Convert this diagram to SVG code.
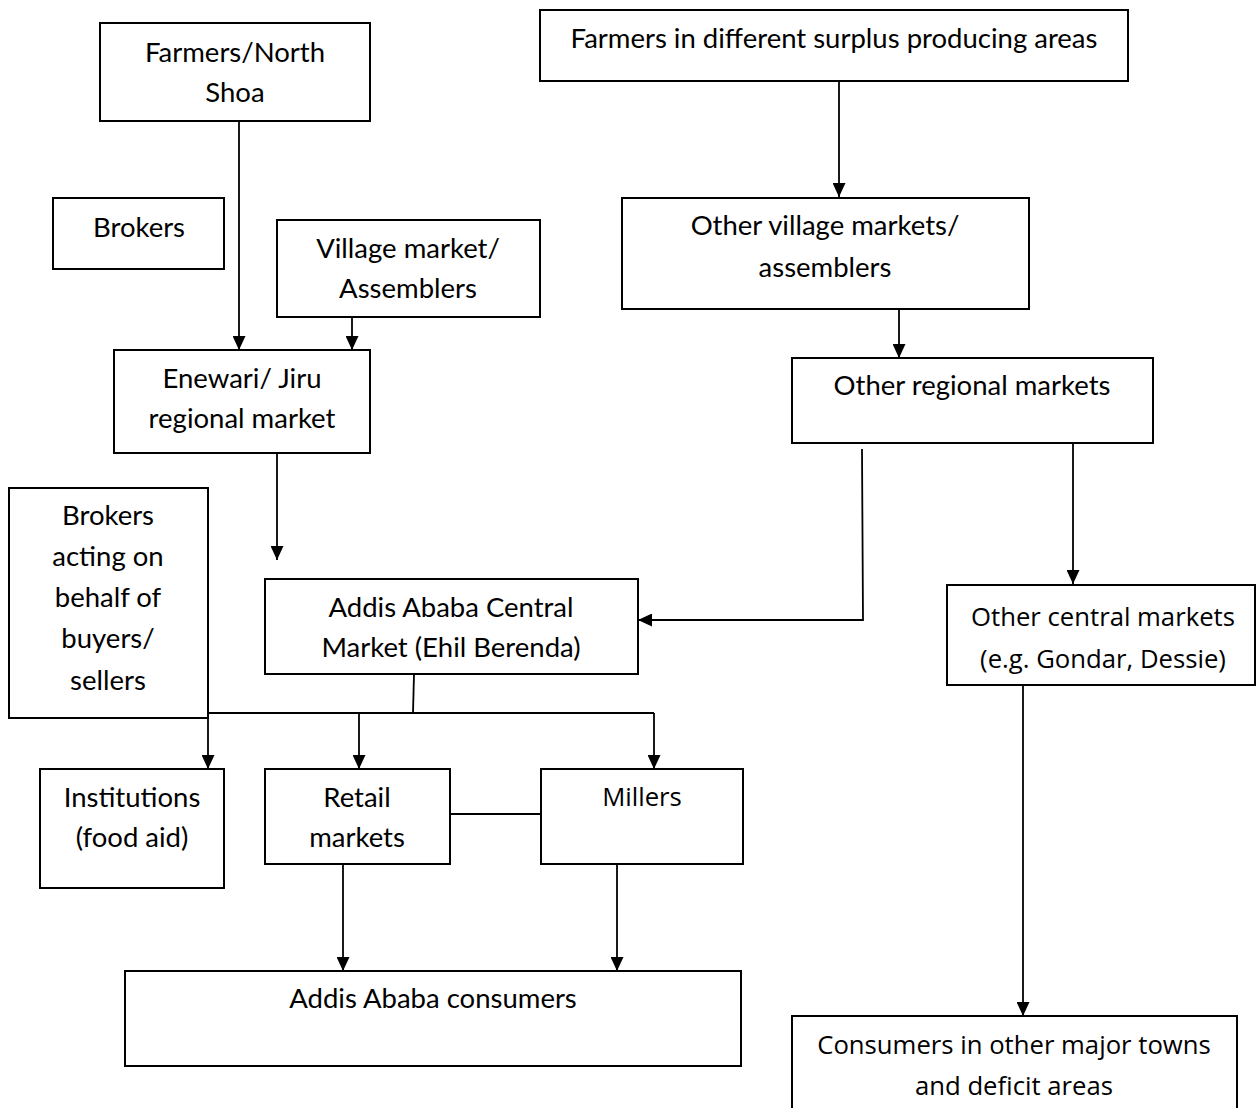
<svg xmlns="http://www.w3.org/2000/svg" width="1256" height="1108" viewBox="0 0 1256 1108">
<defs>
<marker id="arr" viewBox="0 0 14 13" refX="14" refY="6.5" markerWidth="14" markerHeight="13" markerUnits="userSpaceOnUse" orient="auto">
<path d="M0,0 L14,6.5 L0,13 z" fill="#000"/>
</marker>
<style>
rect.box{fill:#fff;stroke:#000;stroke-width:2}
text{font-family:Lato,"Liberation Sans",sans-serif;font-size:27.5px;fill:#000;text-anchor:middle}
text.os{font-family:"Open Sans","Liberation Sans",sans-serif;font-size:25.7px}
.c line,.c polyline{stroke:#000;stroke-width:1.8;fill:none}
.c .a{marker-end:url(#arr)}
</style>
</defs>
<rect width="1256" height="1108" fill="#fff"/>
<g class="c" id="connectors">
<line class="a" x1="239" y1="121" x2="239" y2="350"/>
<line class="a" x1="352" y1="317" x2="352" y2="350"/>
<line class="a" x1="277" y1="453" x2="277" y2="560"/>
<line class="a" x1="839" y1="81" x2="839" y2="197"/>
<line class="a" x1="899" y1="309" x2="899" y2="358"/>
<polyline class="a" points="862,449 863,620 638,620"/>
<line class="a" x1="1073" y1="443" x2="1073" y2="584"/>
<line class="a" x1="1023" y1="685" x2="1023" y2="1016"/>
<line x1="414" y1="674" x2="413" y2="713"/>
<line x1="208" y1="713" x2="654" y2="713"/>
<line class="a" x1="208" y1="713" x2="208" y2="769"/>
<line class="a" x1="359" y1="713" x2="359" y2="769"/>
<line class="a" x1="654" y1="713" x2="654" y2="769"/>
<line x1="450" y1="814" x2="541" y2="814"/>
<line class="a" x1="343" y1="864" x2="343" y2="971"/>
<line class="a" x1="617" y1="864" x2="617" y2="971"/>
</g>
<g id="farmers-north-shoa"><rect class="box" x="100" y="23" width="270" height="98"/><text x="235" y="62">Farmers/North</text><text x="235" y="102">Shoa</text></g>
<g id="brokers"><rect class="box" x="53" y="198" width="171" height="71"/><text x="139" y="237">Brokers</text></g>
<g id="village-market"><rect class="box" x="277" y="220" width="263" height="97"/><text x="408" y="258">Village market/</text><text x="408" y="298">Assemblers</text></g>
<g id="enewari"><rect class="box" x="114" y="350" width="256" height="103"/><text x="242" y="388">Enewari/ Jiru</text><text x="242" y="428">regional market</text></g>
<g id="farmers-surplus"><rect class="box" x="540" y="10" width="588" height="71"/><text x="834" y="48">Farmers in different surplus producing areas</text></g>
<g id="other-village"><rect class="box" x="622" y="198" width="407" height="111"/><text x="825" y="235">Other village markets/</text><text x="825" y="277">assemblers</text></g>
<g id="other-regional"><rect class="box" x="792" y="358" width="361" height="85"/><text x="972" y="395">Other regional markets</text></g>
<g id="brokers-acting"><rect class="box" x="9" y="488" width="199" height="230"/><text x="108" y="525">Brokers</text><text x="108" y="566">acting on</text><text x="108" y="607">behalf of</text><text x="108" y="648">buyers/</text><text x="108" y="690">sellers</text></g>
<g id="addis-central"><rect class="box" x="265" y="579" width="373" height="95"/><text x="451" y="617">Addis Ababa Central</text><text x="451" y="657">Market (Ehil Berenda)</text></g>
<g id="other-central"><rect class="box" x="947" y="585" width="308" height="100"/><text class="os" x="1103" y="626">Other central markets</text><text class="os" x="1103" y="668">(e.g. Gondar, Dessie)</text></g>
<g id="institutions"><rect class="box" x="40" y="769" width="184" height="119"/><text x="132" y="807">Institutions</text><text x="132" y="847">(food aid)</text></g>
<g id="retail"><rect class="box" x="265" y="769" width="185" height="95"/><text x="357" y="807">Retail</text><text x="357" y="847">markets</text></g>
<g id="millers"><rect class="box" x="541" y="769" width="202" height="95"/><text class="os" x="642" y="806">Millers</text></g>
<g id="addis-consumers"><rect class="box" x="125" y="971" width="616" height="95"/><text x="433" y="1008">Addis Ababa consumers</text></g>
<g id="consumers-other"><rect class="box" x="792" y="1016" width="445" height="110"/><text class="os" x="1014" y="1054">Consumers in other major towns</text><text class="os" x="1014" y="1095">and deficit areas</text></g>
</svg>
